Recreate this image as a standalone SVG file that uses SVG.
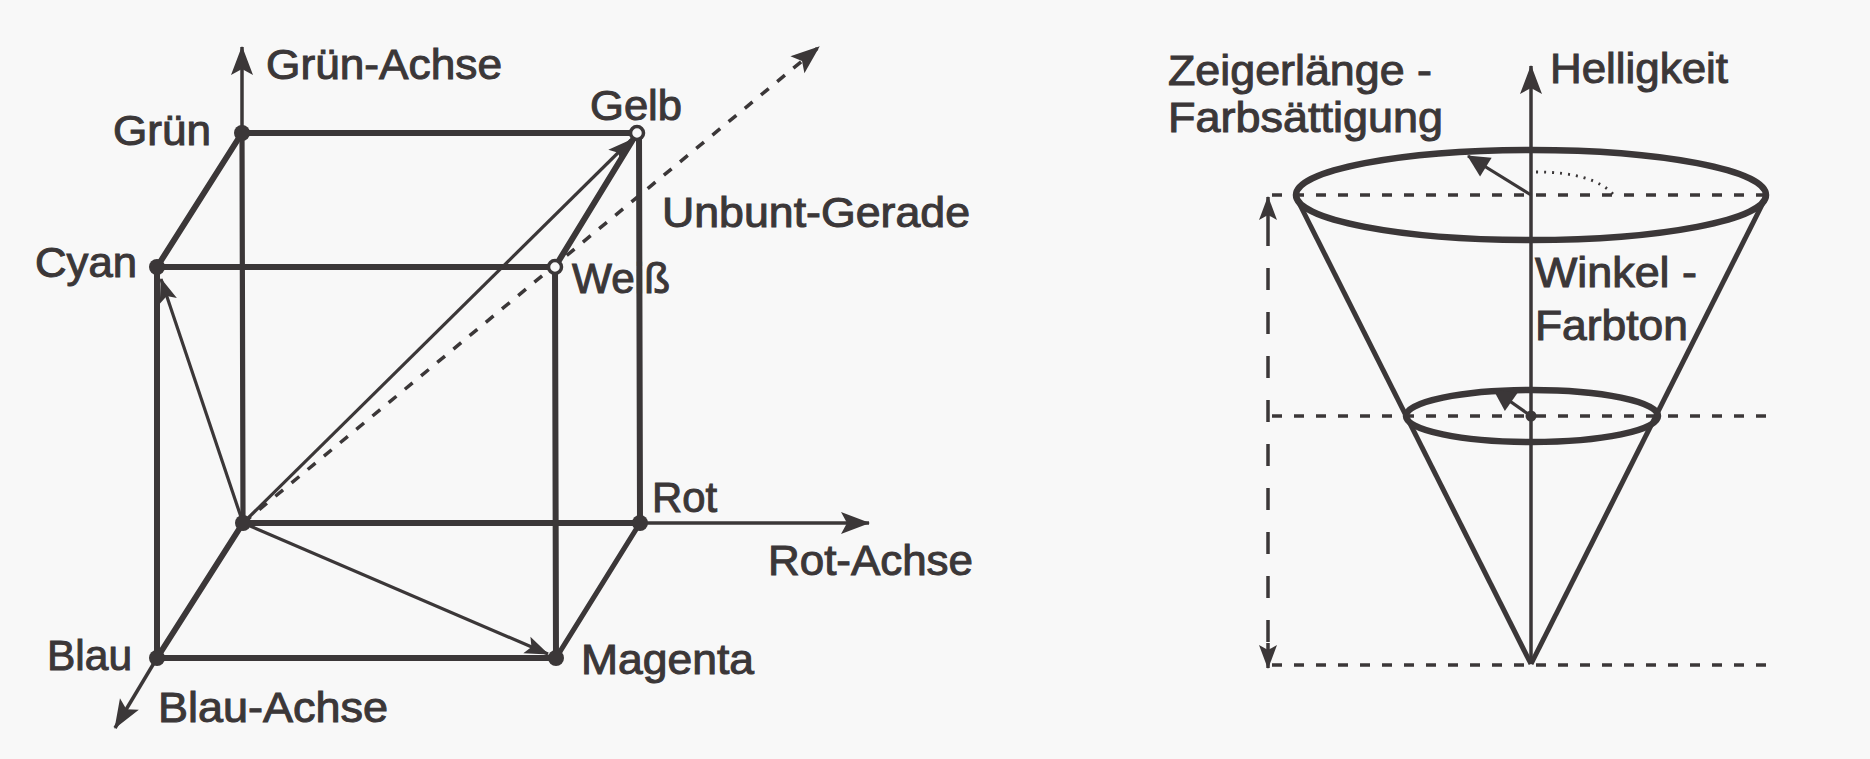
<svg xmlns="http://www.w3.org/2000/svg" width="1870" height="759" viewBox="0 0 1870 759">
  <defs>
    <style>
      .lbl { font-family: "Liberation Sans", Arial, Helvetica, sans-serif; font-size: 42px; fill: #3b3738; stroke: #3b3738; stroke-width: 1px; }
      .edge { stroke: #3b3738; stroke-width: 6; fill: none; stroke-linecap: round; }
      .thin { stroke: #3b3738; stroke-width: 3.2; fill: none; }
      .axis { stroke: #3b3738; stroke-width: 3.5; fill: none; }
      .dash { stroke: #3b3738; stroke-width: 3.5; fill: none; stroke-dasharray: 10 11; }
      .hdash { stroke: #3b3738; stroke-width: 3.5; fill: none; stroke-dasharray: 10 12; }
      .vdash { stroke: #3b3738; stroke-width: 3.5; fill: none; stroke-dasharray: 22 22; }
      .dot { fill: #3b3738; }
      .open { fill: #f8f8f8; stroke: #3b3738; stroke-width: 3.5; }
      .ring { stroke: #3b3738; stroke-width: 6.5; fill: none; }
      .side { stroke: #3b3738; stroke-width: 5; fill: none; }
    </style>
    <marker id="head" viewBox="-30 -13 32 26" refX="0" refY="0" markerWidth="32" markerHeight="26" markerUnits="userSpaceOnUse" orient="auto">
      <path d="M1,0 L-28,-11 L-22,0 L-28,11 Z" fill="#3b3738"/>
    </marker>
    <marker id="headSmall" viewBox="-24 -11 26 22" refX="0" refY="0" markerWidth="26" markerHeight="22" markerUnits="userSpaceOnUse" orient="auto">
      <path d="M1,0 L-23,-9 L-18,0 L-23,9 Z" fill="#3b3738"/>
    </marker>
    <marker id="headFat" viewBox="-24 -13 26 26" refX="0" refY="0" markerWidth="26" markerHeight="26" markerUnits="userSpaceOnUse" orient="auto">
      <path d="M1,0 L-21,-11 L-21,11 Z" fill="#3b3738"/>
    </marker>
  </defs>

  <rect x="0" y="0" width="1870" height="759" fill="#f8f8f8"/>

  <!-- RGB cube: edges, axes and vectors -->
  <g id="connectors">
    <!-- back face -->
    <line class="edge" x1="242" y1="133" x2="637" y2="133"/>
    <line class="edge" x1="242" y1="133" x2="243" y2="523" style="stroke-width:5.2"/>
    <line class="edge" x1="639" y1="133" x2="640" y2="523"/>
    <line class="edge" x1="243" y1="523" x2="640" y2="523"/>
    <!-- front face -->
    <line class="edge" x1="157" y1="267" x2="555" y2="267"/>
    <line class="edge" x1="157" y1="267" x2="157" y2="658"/>
    <line class="edge" x1="555" y1="267" x2="556" y2="658"/>
    <line class="edge" x1="157" y1="658" x2="556" y2="658"/>
    <!-- connecting edges -->
    <line class="edge" x1="242" y1="133" x2="157" y2="267"/>
    <line class="edge" x1="637" y1="133" x2="555" y2="267"/>
    <line class="edge" x1="640" y1="523" x2="556" y2="658" style="stroke-width:5.2"/>
    <line class="edge" x1="243" y1="523" x2="157" y2="658"/>
    <!-- coordinate axes -->
    <line class="axis" x1="242" y1="133" x2="242" y2="47" marker-end="url(#head)"/>
    <line class="axis" x1="640" y1="523" x2="869" y2="523" marker-end="url(#head)"/>
    <line class="axis" x1="157" y1="658" x2="115" y2="728" marker-end="url(#head)"/>
    <!-- colour vectors from black -->
    <line class="thin" x1="243" y1="523" x2="161" y2="279" marker-end="url(#headSmall)"/>
    <line class="thin" x1="243" y1="523" x2="548" y2="654" marker-end="url(#headSmall)"/>
    <line class="thin" x1="243" y1="523" x2="631" y2="140" marker-end="url(#headSmall)"/>
    <!-- achromatic line -->
    <line class="dash" x1="243" y1="523" x2="819" y2="47" marker-end="url(#head)"/>
  </g>

  <!-- cube vertices -->
  <g id="node-schwarz"><circle class="dot" cx="243" cy="523" r="8"/></g>
  <g id="node-gruen">
    <circle class="dot" cx="242" cy="133" r="8"/>
    <text class="lbl" x="113" y="145" textLength="98" lengthAdjust="spacingAndGlyphs">Grün</text>
  </g>
  <g id="node-gelb">
    <circle class="open" cx="637" cy="133" r="6.5"/>
    <text class="lbl" x="590" y="120" textLength="92" lengthAdjust="spacingAndGlyphs">Gelb</text>
  </g>
  <g id="node-cyan">
    <circle class="dot" cx="157" cy="267" r="8"/>
    <text class="lbl" x="35" y="277" textLength="102" lengthAdjust="spacingAndGlyphs">Cyan</text>
  </g>
  <g id="node-weiss">
    <circle class="open" cx="555" cy="267" r="6.5"/>
    <text class="lbl" x="572" y="293" textLength="98" lengthAdjust="spacingAndGlyphs">Weiß</text>
  </g>
  <g id="node-rot">
    <circle class="dot" cx="640" cy="523" r="8"/>
    <text class="lbl" x="652" y="512" textLength="65" lengthAdjust="spacingAndGlyphs">Rot</text>
  </g>
  <g id="node-blau">
    <circle class="dot" cx="157" cy="658" r="8"/>
    <text class="lbl" x="47" y="670" textLength="85" lengthAdjust="spacingAndGlyphs">Blau</text>
  </g>
  <g id="node-magenta">
    <circle class="dot" cx="556" cy="658" r="8"/>
    <text class="lbl" x="581" y="674" textLength="173" lengthAdjust="spacingAndGlyphs">Magenta</text>
  </g>

  <!-- axis labels -->
  <g id="axis-labels">
    <text class="lbl" x="266" y="79" textLength="236" lengthAdjust="spacingAndGlyphs">Grün-Achse</text>
    <text class="lbl" x="662" y="227" textLength="308" lengthAdjust="spacingAndGlyphs">Unbunt-Gerade</text>
    <text class="lbl" x="768" y="575" textLength="205" lengthAdjust="spacingAndGlyphs">Rot-Achse</text>
    <text class="lbl" x="158" y="722" textLength="230" lengthAdjust="spacingAndGlyphs">Blau-Achse</text>
  </g>

  <!-- HSV cone -->
  <g id="hsv-cone">
    <!-- reference levels -->
    <line class="hdash" x1="1272" y1="195" x2="1778" y2="195"/>
    <line class="hdash" x1="1272" y1="416" x2="1778" y2="416"/>
    <line class="hdash" x1="1272" y1="665" x2="1778" y2="665"/>
    <!-- height range -->
    <line class="vdash" x1="1268" y1="224" x2="1268" y2="643"/>
    <line class="axis" x1="1268" y1="224" x2="1268" y2="197" marker-end="url(#headSmall)"/>
    <line class="axis" x1="1268" y1="643" x2="1268" y2="668" marker-end="url(#headSmall)"/>
    <!-- cone mantle -->
    <line class="side" x1="1297" y1="199" x2="1531" y2="664"/>
    <line class="side" x1="1765" y1="199" x2="1531" y2="664"/>
    <!-- brightness axis -->
    <line class="axis" x1="1531" y1="664" x2="1531" y2="66" marker-end="url(#head)"/>
    <!-- cross-section rings -->
    <ellipse class="ring" cx="1531" cy="195" rx="235" ry="45"/>
    <ellipse class="ring" cx="1532" cy="416" rx="126" ry="26"/>
    <!-- saturation pointers and hue angle -->
    <line class="thin" x1="1531" y1="195" x2="1468" y2="156" marker-end="url(#headFat)"/>
    <path d="M1536,172 Q1592,172 1613,194" stroke="#3b3738" stroke-width="2.8" fill="none" stroke-dasharray="2 6"/>
    <line class="thin" x1="1531" y1="416" x2="1494" y2="390" marker-end="url(#headFat)"/>
    <circle class="dot" cx="1531" cy="416" r="5.5"/>
  </g>

  <!-- cone labels -->
  <g id="cone-labels">
    <text class="lbl" x="1168" y="85" textLength="264" lengthAdjust="spacingAndGlyphs">Zeigerlänge -</text>
    <text class="lbl" x="1168" y="132" textLength="275" lengthAdjust="spacingAndGlyphs">Farbsättigung</text>
    <text class="lbl" x="1550" y="83" textLength="178" lengthAdjust="spacingAndGlyphs">Helligkeit</text>
    <text class="lbl" x="1535" y="287" textLength="162" lengthAdjust="spacingAndGlyphs">Winkel -</text>
    <text class="lbl" x="1535" y="340" textLength="153" lengthAdjust="spacingAndGlyphs">Farbton</text>
  </g>
</svg>
